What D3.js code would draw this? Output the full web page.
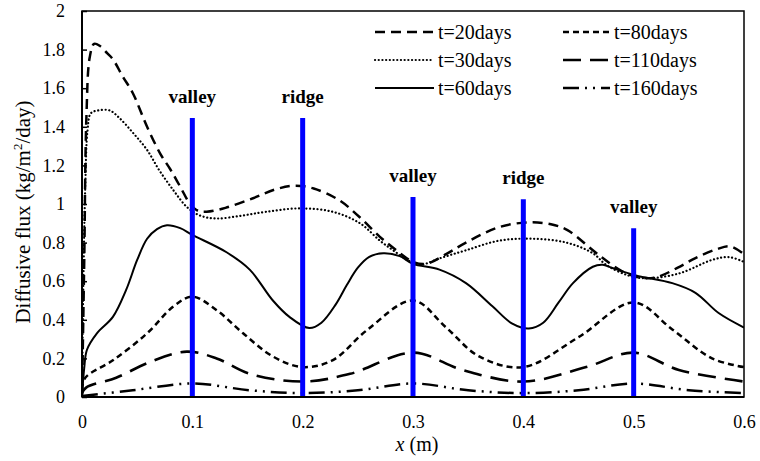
<!DOCTYPE html>
<html>
<head>
<meta charset="utf-8">
<script src="https://cdn.jsdelivr.net/npm/d3@7/dist/d3.min.js"></script>
<style>
  body { margin: 0; background: #fff; }
  svg text { font-family: "Liberation Serif", "Times New Roman", "DejaVu Serif", serif; fill: #000; }
</style>
</head>
<body>
<svg id="chart" width="760" height="461"></svg>
<script>
// data, [x (m), flux]
var t20 = [[0,0],[0.002,0.7],[0.004,1.45],[0.007,1.76],[0.011,1.83],[0.016,1.82],[0.023,1.78],[0.028,1.75],
    [0.037,1.66],[0.046,1.575],[0.059,1.40],[0.071,1.26],[0.08,1.18],[0.089,1.09],[0.098,1.0],[0.105,0.965],
    [0.113,0.96],[0.13,0.98],[0.155,1.03],[0.175,1.075],[0.193,1.095],[0.21,1.08],[0.233,1.02],[0.252,0.93],
    [0.27,0.83],[0.285,0.76],[0.3,0.7],[0.312,0.69],[0.33,0.74],[0.348,0.80],[0.378,0.88],[0.405,0.905],
    [0.425,0.895],[0.44,0.865],[0.463,0.76],[0.472,0.72],[0.49,0.65],[0.505,0.62],[0.52,0.62],[0.54,0.67],
    [0.556,0.72],[0.575,0.765],[0.588,0.78],[0.6,0.74]];
var t30 = [[0,0],[0.001,0.5],[0.003,1.1],[0.005,1.38],[0.008,1.47],[0.015,1.485],[0.025,1.485],[0.034,1.445],
    [0.046,1.37],[0.059,1.28],[0.07,1.175],[0.083,1.07],[0.095,0.985],[0.107,0.94],[0.122,0.925],[0.145,0.94],
    [0.167,0.96],[0.197,0.977],[0.227,0.96],[0.252,0.90],[0.27,0.81],[0.282,0.76],[0.295,0.71],[0.306,0.685],
    [0.325,0.72],[0.348,0.76],[0.378,0.81],[0.408,0.82],[0.439,0.80],[0.463,0.745],[0.475,0.685],[0.495,0.63],
    [0.511,0.615],[0.541,0.64],[0.571,0.71],[0.586,0.725],[0.6,0.70]];
var t60 = [[0,0],[0.002,0.15],[0.0045,0.245],[0.0135,0.33],[0.028,0.415],[0.04,0.555],[0.05,0.71],[0.059,0.82],
    [0.068,0.87],[0.077,0.89],[0.089,0.875],[0.1,0.84],[0.131,0.75],[0.152,0.66],[0.173,0.50],[0.188,0.415],
    [0.206,0.357],[0.217,0.385],[0.23,0.48],[0.24,0.58],[0.25,0.67],[0.26,0.725],[0.273,0.745],[0.288,0.73],
    [0.3,0.69],[0.324,0.66],[0.348,0.59],[0.372,0.47],[0.39,0.38],[0.405,0.355],[0.418,0.385],[0.432,0.49],
    [0.445,0.59],[0.463,0.675],[0.472,0.685],[0.48,0.67],[0.502,0.63],[0.535,0.59],[0.556,0.54],[0.577,0.435],
    [0.6,0.36]];
var t80 = [[0,0.04],[0.003,0.1],[0.028,0.19],[0.059,0.33],[0.083,0.47],[0.1,0.52],[0.122,0.45],[0.146,0.33],
    [0.173,0.21],[0.2,0.155],[0.227,0.19],[0.258,0.345],[0.3,0.5],[0.33,0.36],[0.36,0.21],[0.4,0.155],
    [0.45,0.31],[0.5,0.49],[0.535,0.35],[0.571,0.20],[0.6,0.155]];
var t110 = [[0,0.02],[0.004,0.05],[0.031,0.10],[0.061,0.18],[0.095,0.235],[0.122,0.20],[0.152,0.12],[0.2,0.08],
    [0.243,0.12],[0.3,0.23],[0.345,0.14],[0.4,0.08],[0.457,0.155],[0.5,0.23],[0.541,0.14],[0.6,0.08]];
var t160 = [[0,0.005],[0.046,0.035],[0.1,0.07],[0.152,0.035],[0.2,0.02],[0.25,0.035],[0.3,0.07],[0.35,0.035],
    [0.4,0.02],[0.45,0.035],[0.5,0.07],[0.55,0.035],[0.6,0.02]];

var seriesNames = ["t=20days", "t=30days", "t=60days", "t=80days", "t=110days", "t=160days"];
var seriesData = [t20, t30, t60, t80, t110, t160];

var markerX = [0.1, 0.2, 0.3, 0.4, 0.5];
var markerTop = [1.445, 1.445, 1.036, 1.025, 0.875];
var markerLabel = ["valley", "ridge", "valley", "ridge", "valley"];

var xTicks = [0, 0.1, 0.2, 0.3, 0.4, 0.5, 0.6];
var yTicks = [0, 0.2, 0.4, 0.6, 0.8, 1, 1.2, 1.4, 1.6, 1.8, 2];

// line styles, same order as seriesNames
var styles = [
    { dash: "10,6", width: 2.5, cap: "butt" },
    { dash: "0.1,3.6", width: 2.2, cap: "round" },
    { dash: null, width: 2, cap: "butt" },
    { dash: "6,4", width: 2.5, cap: "butt" },
    { dash: "18,9", width: 2.6, cap: "butt" },
    { dash: "16,6,2,6,2,6", width: 2.5, cap: "butt" }
];

var svg = d3.select("#chart");
var margin = { left: 82, right: 16, top: 11, bottom: 64 };
var width = +svg.attr("width") - margin.left - margin.right;
var height = +svg.attr("height") - margin.top - margin.bottom;

var x = d3.scaleLinear().domain([0, 0.6]).range([0, width]);
var y = d3.scaleLinear().domain([0, 2]).range([height, 0]);

var g = svg.append("g").attr("transform", "translate(" + margin.left + "," + margin.top + ")");

g.append("clipPath").attr("id", "clip")
    .append("rect").attr("width", width).attr("height", height);

// axes
var fmt = function (d) { return String(+d.toFixed(1)); };
var yAxis = d3.axisLeft(y).tickValues(yTicks).tickSize(-5).tickPadding(17).tickFormat(fmt);
var xAxis = d3.axisBottom(x).tickValues(xTicks).tickSize(0).tickPadding(18).tickFormat(fmt);

var gy = g.append("g").call(yAxis);
var gx = g.append("g").attr("transform", "translate(0," + height + ")").call(xAxis);
[gy, gx].forEach(function (a) {
    a.select(".domain").remove();
    a.selectAll(".tick line").attr("stroke", "#000").attr("stroke-width", 1.5);
    a.selectAll("text").attr("font-size", "18px");
});

// data lines
var line = d3.line()
    .x(function (d) { return x(d[0]); })
    .y(function (d) { return y(d[1]); })
    .curve(d3.curveCatmullRom.alpha(0.5));

var lines = g.append("g").attr("clip-path", "url(#clip)");
seriesData.forEach(function (data, i) {
    lines.append("path")
        .datum(data)
        .attr("d", line)
        .attr("fill", "none")
        .attr("stroke", "#000")
        .attr("stroke-width", styles[i].width)
        .attr("stroke-linecap", styles[i].cap)
        .attr("stroke-dasharray", styles[i].dash);
});

// blue valley / ridge markers
markerX.forEach(function (mx, i) {
    g.append("line")
        .attr("x1", x(mx)).attr("x2", x(mx))
        .attr("y1", y(0)).attr("y2", y(markerTop[i]))
        .attr("stroke", "#0000ff")
        .attr("stroke-width", 5);
    g.append("text")
        .attr("x", x(mx))
        .attr("y", y(markerTop[i]) - 15)
        .attr("text-anchor", "middle")
        .attr("font-size", "19px")
        .attr("font-weight", "bold")
        .text(markerLabel[i]);
});

// frame
g.append("rect")
    .attr("width", width).attr("height", height)
    .attr("fill", "none").attr("stroke", "#000").attr("stroke-width", 1.5);
g.append("line").attr("x1", 0).attr("x2", 0).attr("y1", 0).attr("y2", height)
    .attr("stroke", "#000").attr("stroke-width", 2);
g.append("line").attr("x1", 0).attr("x2", width).attr("y1", height).attr("y2", height)
    .attr("stroke", "#000").attr("stroke-width", 2);

// legend
var legend = g.append("g");
var colX = [293, 481];
var colLine = [59, 47];
var rowY = [21, 49, 77];
seriesNames.forEach(function (name, i) {
    var col = Math.floor(i / 3), row = i % 3;
    var lx = colX[col];
    legend.append("line")
        .attr("x1", lx).attr("x2", lx + colLine[col])
        .attr("y1", rowY[row]).attr("y2", rowY[row])
        .attr("stroke", "#000")
        .attr("stroke-width", styles[i].width)
        .attr("stroke-linecap", styles[i].cap)
        .attr("stroke-dasharray", styles[i].dash);
    legend.append("text")
        .attr("x", lx + colLine[col] + 4)
        .attr("y", rowY[row])
        .attr("dy", "0.35em")
        .attr("font-size", "20px")
        .text(name);
});

// axis titles
var yTitle = svg.append("text")
    .attr("transform", "translate(30," + (margin.top + height / 2 + 8) + ") rotate(-90)")
    .attr("text-anchor", "middle")
    .attr("font-size", "21px");
yTitle.append("tspan").text("Diffusive flux (kg/m");
yTitle.append("tspan").attr("font-size", "13px").attr("dy", "-8").text("2");
yTitle.append("tspan").attr("dy", "8").text("/day)");

var xTitle = svg.append("text")
    .attr("x", margin.left + x(0.3) + 4)
    .attr("y", 451)
    .attr("text-anchor", "middle")
    .attr("font-size", "20px");
xTitle.append("tspan").attr("font-style", "italic").text("x");
xTitle.append("tspan").text(" (m)");
</script>
</body>
</html>
